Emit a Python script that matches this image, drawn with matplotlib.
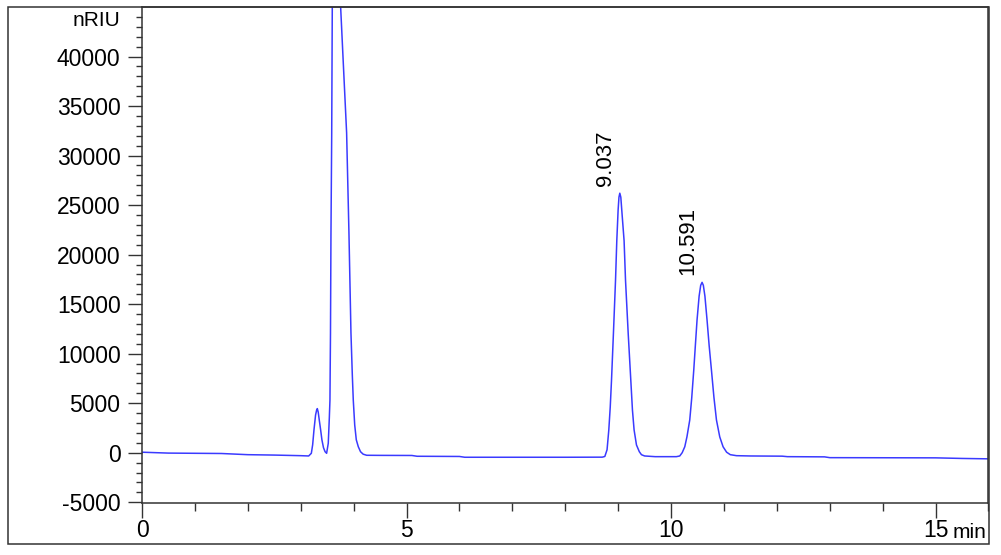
import matplotlib
matplotlib.use("Agg")
import matplotlib.pyplot as plt
from matplotlib.patches import Rectangle
from matplotlib.ticker import MultipleLocator, FixedLocator

plt.rcParams['font.family'] = ['Liberation Sans', 'DejaVu Sans']
plt.rcParams['axes.unicode_minus'] = False

# retention time (min) and detector signal (nRIU)
time_min = [0.0, 0.5, 1.0, 1.5, 2.0, 2.5, 3.0, 3.15,
            3.2, 3.225, 3.25, 3.28, 3.30, 3.313, 3.33, 3.35, 3.376, 3.40, 3.43, 3.46, 3.489,
            3.52, 3.54, 3.552, 3.562, 3.571, 3.585, 3.596, 3.62, 3.66, 3.70, 3.73, 3.754,
            3.80, 3.867, 3.911, 3.949, 3.975, 3.993, 4.02, 4.05, 4.088, 4.13, 4.18, 4.246,
            4.5, 5.1, 5.2, 6.0, 6.1, 7.0, 8.0, 8.7,
            8.748, 8.79, 8.823, 8.85, 8.874, 8.91, 8.95, 8.974, 8.999, 9.015, 9.031, 9.05,
            9.075, 9.112, 9.139, 9.19, 9.239, 9.27, 9.301, 9.346, 9.40, 9.44, 9.50, 9.7,
            10.1, 10.164, 10.21, 10.259, 10.30, 10.353, 10.39, 10.429, 10.46, 10.491, 10.53,
            10.56, 10.586, 10.61, 10.64, 10.68, 10.72, 10.763, 10.81, 10.858, 10.92, 10.983,
            11.05, 11.12, 11.236, 11.5, 12.1, 12.2, 12.9, 13.0, 15.0, 15.5, 16.0]
signal = [50, -40, -60, -80, -200, -240, -300, -330,
          -60, 800, 2300, 3800, 4300, 4450, 4100, 3300, 2300, 1300, 500, 100, -60,
          950, 3500, 5300, 12000, 22000, 32000, 45000, 54000, 60000, 57000, 51000, 45000,
          39800, 32300, 22200, 12100, 7800, 5300, 2800, 1300, 600, 100, -150, -260,
          -270, -280, -360, -380, -460, -460, -460, -450,
          -380, 300, 2300, 4600, 7300, 12000, 17400, 21400, 24500, 25800, 26200, 25800,
          24000, 21400, 17400, 12000, 7300, 4300, 2300, 780, 100, -200, -330, -400,
          -400, -330, 0, 600, 1600, 3300, 5500, 8350, 10900, 13400, 15800,
          16900, 17200, 16900, 15800, 13400, 10800, 8350, 5600, 3300, 1600, 600,
          50, -200, -300, -330, -350, -400, -420, -500, -520, -580, -620]

peak_times = [9.037, 10.591]
peak_heights = [26200, 17200]
peak_labels = ['9.037', '10.591']

fig = plt.figure(figsize=(10.01, 5.55), dpi=100)
ax = fig.add_axes([0.1419, 0.0942, 0.9875 - 0.1419, 0.9874 - 0.0942])

ax.plot(time_min, signal, color='#3a3aff', lw=1.1)

for t, h, lab in zip(peak_times, peak_heights, peak_labels):
    ax.annotate(lab, xy=(t, h), xytext=(-3, 5), textcoords='offset points',
                rotation=90, ha='right', va='bottom', fontsize=16)

ax.set_xlim(0, 16)
ax.set_ylim(-5050, 45000)
ax.xaxis.set_major_locator(MultipleLocator(5))
ax.xaxis.set_minor_locator(MultipleLocator(1))
ax.yaxis.set_major_locator(FixedLocator(range(-5000, 40001, 5000)))
ax.yaxis.set_minor_locator(FixedLocator(range(-5000, 44001, 1000)))

edge = '#333333'
for s in ax.spines.values():
    s.set_color(edge)
    s.set_linewidth(1.1)
ax.tick_params(axis='y', which='major', length=10, width=1.0, pad=5.5,
               labelsize=16.5, color=edge)
ax.tick_params(axis='y', which='minor', length=4.5, width=1.0, color=edge)
ax.tick_params(axis='x', which='major', length=11, width=1.0, pad=1,
               labelsize=16.5, color=edge)
ax.tick_params(axis='x', which='minor', length=6, width=1.0, color=edge)

fig.text(120 / 1001, 1 - 21 / 555, 'nRIU', ha='right', va='center', fontsize=15)
fig.text(953 / 1001, 1 - 532 / 555, 'min', ha='left', va='center', fontsize=15)

fig.patches.append(Rectangle((8 / 1001, 1 - 544 / 555), 981 / 1001, 537 / 555,
                             transform=fig.transFigure, fill=False,
                             ec=edge, lw=1.1))

fig.savefig('out.png', dpi=100)
